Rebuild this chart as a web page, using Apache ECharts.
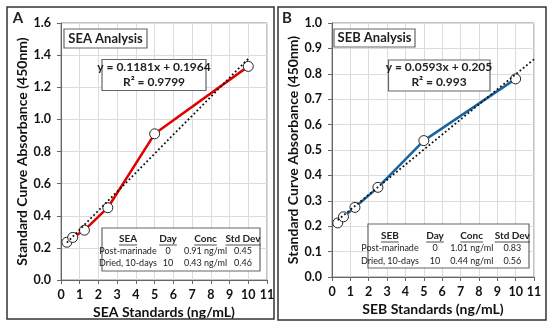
<!DOCTYPE html>
<html><head><meta charset="utf-8">
<script src="https://cdn.jsdelivr.net/npm/echarts@6/dist/echarts.min.js"></script>
<style>html,body{margin:0;padding:0;background:#fff}#c{width:550px;height:326px}</style>
</head><body><div id="c"></div>
<script>
// Data
const standardsX = [0.3125, 0.625, 1.25, 2.5, 5, 10];
const seaY = [0.235, 0.265, 0.31, 0.45, 0.91, 1.33];
const sebY = [0.213, 0.237, 0.274, 0.353, 0.537, 0.78];
const seaTrendX = [0.3125, 10];
const seaTrendY = [0.233, 1.377];
const sebTrendX = [0.3125, 11];
const sebTrendY = [0.224, 0.857];
const xTicks = [0,1,2,3,4,5,6,7,8,9,10,11];
const seaYTicks = [0.0,0.2,0.4,0.6,0.8,1.0,1.2,1.4,1.6];
const sebYTicks = [0.0,0.1,0.2,0.3,0.4,0.5,0.6,0.7,0.8,0.9,1.0];
const seaEq = ['y = 0.1181x + 0.1964', 'R\u00b2 = 0.9799'];
const sebEq = ['y = 0.0593x + 0.205', 'R\u00b2 = 0.993'];
const seaTable = [['SEA','Day','Conc','Std Dev'],['Post-marinade','0','0.91 ng/ml','0.45'],['Dried, 10-days','10','0.43 ng/ml','0.46']];
const sebTable = [['SEB','Day','Conc','Std Dev'],['Post-marinade','0','1.01 ng/ml','0.83'],['Dried, 10-days','10','0.44 ng/ml','0.56']];

const FONT = 'Lato, "Open Sans", sans-serif';
const pair = (xs, ys) => xs.map((x, i) => [x, ys[i]]);

const ctx = document.createElement('canvas').getContext('2d');
function tw(t, size, weight) { ctx.font = weight + ' ' + size + 'px Lato'; return ctx.measureText(t).width; }

function xAxis(idx, name) {
  return {
    gridIndex: idx, type: 'value', min: 0, max: 11, interval: 1,
    name: name, nameLocation: 'middle', nameGap: 25,
    nameTextStyle: { fontFamily: FONT, fontWeight: 'bold', fontSize: 14, color: '#111' },
    axisLine: { show: true, onZero: false, lineStyle: { color: '#666', width: 1 } },
    axisTick: { show: true, length: 4, lineStyle: { color: '#666' } },
    axisLabel: { fontFamily: FONT, fontWeight: 'bold', fontSize: 12.5, color: '#111', margin: 8 },
    splitLine: { show: true, lineStyle: { color: '#dcdcdc', width: 1 } }
  };
}
function yAxis(idx, max, interval, nameGap) {
  return {
    gridIndex: idx, type: 'value', min: 0, max: max, interval: interval,
    name: 'Standard Curve Absorbance (450nm)', nameLocation: 'middle', nameGap: nameGap,
    nameTextStyle: { fontFamily: FONT, fontWeight: 'bold', fontSize: 14, color: '#111' },
    axisLine: { show: true, lineStyle: { color: '#666', width: 1 } },
    axisTick: { show: true, length: 4, lineStyle: { color: '#666' } },
    axisLabel: { fontFamily: FONT, fontWeight: 'bold', fontSize: 12.5, color: '#111', margin: 10,
      formatter: v => v.toFixed(1) },
    splitLine: { show: true, lineStyle: { color: '#dcdcdc', width: 1 } }
  };
}
function dataSeries(idx, ys, color) {
  return {
    type: 'line', xAxisIndex: idx, yAxisIndex: idx, data: pair(standardsX, ys),
    symbol: 'circle', symbolSize: 10, showSymbol: true,
    lineStyle: { color: color, width: 2.5 },
    itemStyle: { color: '#fff', borderColor: '#222', borderWidth: 1 },
    z: 3, animation: false
  };
}
function trendSeries(idx, xs, ys) {
  return {
    type: 'line', xAxisIndex: idx, yAxisIndex: idx, data: pair(xs, ys),
    symbol: 'none', lineStyle: { color: '#111', width: 1.8, type: [1.8, 2.4] },
    z: 4, animation: false
  };
}

function box(x, y, w, h, lw) {
  return { type: 'rect', shape: { x: x, y: y, width: w, height: h },
    style: { fill: '#fff', stroke: '#666', lineWidth: lw || 1.2 }, z: 10 };
}
function txt(t, x, y, size, weight, align) {
  return { type: 'text', x: x, y: y, z: 11,
    style: { text: t, fontFamily: FONT, fontSize: size, fontWeight: weight || 'normal',
      fill: '#222', align: align || 'center', verticalAlign: 'middle' } };
}
function table(tbl, bx, by, bw, bh, cols, rows) {
  const els = [box(bx, by, bw, bh, 1.2)];
  tbl.forEach((row, r) => {
    row.forEach((cell, c) => {
      const head = r === 0;
      const size = head ? 10 : 9;
      els.push(txt(cell, cols[c], rows[r], size, head ? 'bold' : 'normal'));
      if (head) {
        const w = tw(cell, size, 'bold');
        els.push({ type: 'line', z: 11, shape: { x1: cols[c] - w / 2, y1: rows[r] + 6.5, x2: cols[c] + w / 2, y2: rows[r] + 6.5 },
          style: { stroke: '#222', lineWidth: 0.8 } });
      }
    });
  });
  return els;
}

const graphics = [].concat(
  [{ type: 'rect', shape: { x: 7, y: 7, width: 267, height: 312 }, style: { fill: 'none', stroke: '#333', lineWidth: 1.5 }, z: 1 },
   { type: 'rect', shape: { x: 278, y: 7, width: 268, height: 313 }, style: { fill: 'none', stroke: '#333', lineWidth: 1.5 }, z: 1 },
   txt('A', 18, 18, 15, 'bold'), txt('B', 287, 18, 15, 'bold'),
   box(64, 29, 83, 19), txt('SEA Analysis', 105.5, 38.5, 13, 'bold'),
   box(334, 29, 81, 18), txt('SEB Analysis', 374.5, 38, 13, 'bold'),
   box(102, 59.5, 104, 31), txt(seaEq[0], 154, 67, 12, 'bold'), txt(seaEq[1], 154, 82, 12, 'bold'),
   box(388.5, 60, 101.5, 31), txt(sebEq[0], 439, 67.5, 12, 'bold'), txt(sebEq[1], 439, 82, 12, 'bold')],
  table(seaTable, 102, 228, 158, 43, [128, 168, 205.5, 243], [238.5, 250.7, 263]),
  table(sebTable, 368, 224, 161, 44, [390, 435, 471.7, 512.3], [235.5, 248, 261])
);

const chart = echarts.init(document.getElementById('c'), null, { renderer: 'canvas' });
chart.setOption({
  animation: false,
  backgroundColor: '#fff',
  grid: [
    { left: 61, top: 23, width: 206, height: 257, show: true, borderColor: '#888', borderWidth: 1, backgroundColor: 'transparent' },
    { left: 332, top: 23, width: 202, height: 254, show: true, borderColor: '#888', borderWidth: 1, backgroundColor: 'transparent' }
  ],
  xAxis: [xAxis(0, 'SEA Standards (ng/mL)'), xAxis(1, 'SEB Standards (ng/mL)')],
  yAxis: [yAxis(0, 1.6, 0.2, 29), yAxis(1, 1.0, 0.1, 32)],
  series: [
    dataSeries(0, seaY, '#e00000'), trendSeries(0, seaTrendX, seaTrendY),
    dataSeries(1, sebY, '#1a64a0'), trendSeries(1, sebTrendX, sebTrendY)
  ],
  graphic: graphics
});
</script></body></html>
